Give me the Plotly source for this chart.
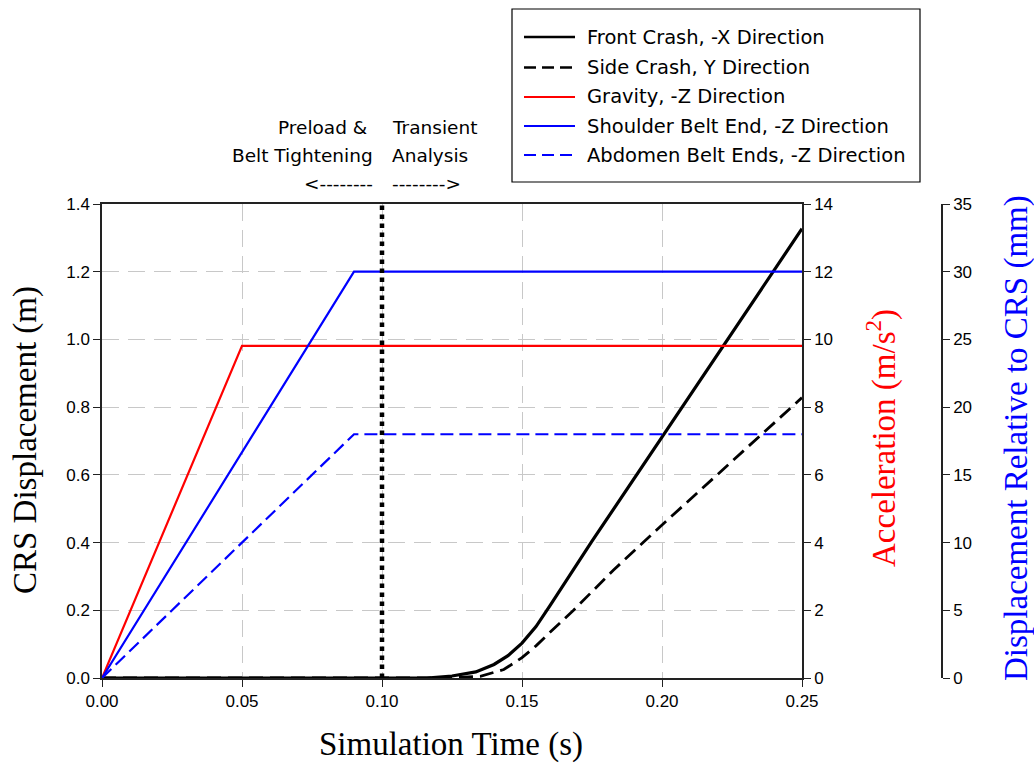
import plotly.graph_objects as go

# ---- data -------------------------------------------------------------
# Front crash (-X) CRS displacement, m
front_time = [0.0, 0.116, 0.125, 0.1335, 0.140, 0.145, 0.150, 0.155, 0.160,
              0.165, 0.170, 0.175, 0.250]
front_disp = [0.0, 0.0, 0.006, 0.018, 0.040, 0.066, 0.103, 0.152, 0.214,
              0.278, 0.341, 0.404, 1.327]

# Side crash (Y) CRS displacement, m
side_time = [0.0, 0.123, 0.1351, 0.1435, 0.150, 0.155, 0.160, 0.1685, 0.1827,
             0.200, 0.250]
side_disp = [0.0, 0.0, 0.005, 0.025, 0.060, 0.095, 0.135, 0.201, 0.319,
             0.452, 0.828]

# Gravity ramp (-Z), m/s^2
gravity_time = [0.0, 0.05, 0.25]
gravity_acc = [0.0, 9.81, 9.81]

# Belt end displacements relative to CRS (-Z), mm
belt_time = [0.0, 0.09, 0.25]
shoulder_mm = [0.0, 30.0, 30.0]
abdomen_mm = [0.0, 18.0, 18.0]

# End of preload / start of transient analysis, s
phase_split = 0.10

legend_labels = [
    "Front Crash, -X Direction",
    "Side Crash, Y Direction",
    "Gravity, -Z Direction",
    "Shoulder Belt End, -Z Direction",
    "Abdomen Belt Ends, -Z Direction",
]

# ---- page geometry (pixels) ---------------------------------------------
W, H = 1034, 768
ML, MR, MT, MB = 102, 92, 204, 90
PW = W - ML - MR          # 840, includes room for the outer right axis
PH = H - MT - MB          # 474
PLOT_RIGHT = 802          # right edge of the data area


def px(x):
    return (x - ML) / PW


def py(y):
    return (H - MB - y) / PH


BLACK = "#000000"
RED = "#ff0000"
BLUE = "#0000ff"
GRID = "#c8c8c8"
AXIS = "#222222"
TICK_FONT = dict(family="Liberation Sans, Arial, sans-serif", size=17, color="#000000")
TITLE_FONT = "Liberation Serif, Times New Roman, serif"
LABEL_FONT = "DejaVu Sans, Tahoma, sans-serif"

fig = go.Figure()

fig.add_trace(go.Scatter(x=front_time, y=front_disp, mode="lines", yaxis="y",
                         line=dict(color=BLACK, width=3.2), name=legend_labels[0],
                         showlegend=False))
fig.add_trace(go.Scatter(x=side_time, y=side_disp, mode="lines", yaxis="y",
                         line=dict(color=BLACK, width=2.8, dash="14px,7px"),
                         name=legend_labels[1], showlegend=False))
fig.add_trace(go.Scatter(x=gravity_time, y=gravity_acc, mode="lines", yaxis="y2",
                         line=dict(color=RED, width=2.2), name=legend_labels[2],
                         showlegend=False))
fig.add_trace(go.Scatter(x=belt_time, y=shoulder_mm, mode="lines", yaxis="y3",
                         line=dict(color=BLUE, width=2.2), name=legend_labels[3],
                         showlegend=False))
fig.add_trace(go.Scatter(x=belt_time, y=abdomen_mm, mode="lines", yaxis="y3",
                         line=dict(color=BLUE, width=2.2, dash="13px,6px"),
                         name=legend_labels[4], showlegend=False))

shapes = []
# phase boundary
shapes.append(dict(type="line", xref="x", yref="paper", x0=phase_split, x1=phase_split,
                   y0=0, y1=1, line=dict(color=BLACK, width=4.5, dash="4.5px,4.5px")))

# legend box with line samples
LEG_X0, LEG_X1, LEG_Y0, LEG_Y1 = 512, 920, 9, 182
shapes.append(dict(type="rect", xref="paper", yref="paper",
                   x0=px(LEG_X0), x1=px(LEG_X1), y0=py(LEG_Y1), y1=py(LEG_Y0),
                   line=dict(color=BLACK, width=1.2), fillcolor="white", layer="above"))
legend_styles = [
    dict(color=BLACK, width=2.6),
    dict(color=BLACK, width=2.6, dash="12px,6px"),
    dict(color=RED, width=2.2),
    dict(color=BLUE, width=2.2),
    dict(color=BLUE, width=2.2, dash="12px,6px"),
]
row_y = [37, 67.5, 97, 126, 155]

annotations = []
for label, style, ry in zip(legend_labels, legend_styles, row_y):
    shapes.append(dict(type="line", xref="paper", yref="paper",
                       x0=px(524), x1=px(575), y0=py(ry), y1=py(ry),
                       line=style, layer="above"))
    annotations.append(dict(text=label, xref="paper", yref="paper",
                            x=px(585), y=py(ry), xanchor="left", yanchor="middle",
                            showarrow=False,
                            font=dict(family=LABEL_FONT, size=19.5, color="#000000")))

# phase notes above the plot
for txt, ry in [("Preload & ", 128), ("Belt Tightening", 155), ("<--------", 183)]:
    annotations.append(dict(text=txt, xref="paper", yref="paper",
                            x=px(375), y=py(ry), xanchor="right", yanchor="middle",
                            showarrow=False,
                            font=dict(family=LABEL_FONT, size=18.5, color="#000000")))
for txt, ry in [("Transient", 128), ("Analysis", 155), ("-------->", 183)]:
    annotations.append(dict(text=txt, xref="paper", yref="paper",
                            x=px(390), y=py(ry), xanchor="left", yanchor="middle",
                            showarrow=False,
                            font=dict(family=LABEL_FONT, size=18.5, color="#000000")))

# axis titles
annotations.append(dict(text="Simulation Time (s)", xref="paper", yref="paper",
                        x=px(451), y=py(744), xanchor="center", yanchor="middle",
                        showarrow=False, font=dict(family=TITLE_FONT, size=33, color="#000000")))
annotations.append(dict(text="CRS Displacement (m)", xref="paper", yref="paper",
                        x=px(25), y=py(440), xanchor="center", yanchor="middle",
                        textangle=-90, showarrow=False,
                        font=dict(family=TITLE_FONT, size=33, color="#000000")))
annotations.append(dict(text="Acceleration (m/s<sup>2</sup>)", xref="paper", yref="paper",
                        x=px(881), y=py(438), xanchor="center", yanchor="middle",
                        textangle=-90, showarrow=False,
                        font=dict(family=TITLE_FONT, size=33, color=RED)))
annotations.append(dict(text="Displacement Relative to CRS (mm)", xref="paper", yref="paper",
                        x=px(1016), y=py(438), xanchor="center", yanchor="middle",
                        textangle=-90, showarrow=False,
                        font=dict(family=TITLE_FONT, size=33, color=BLUE)))

axis_common = dict(showline=True, linecolor=AXIS, linewidth=1.5, ticks="outside",
                   ticklen=7, tickwidth=1.3, tickcolor=AXIS, tickfont=TICK_FONT,
                   zeroline=False)

fig.update_layout(
    width=W, height=H,
    margin=dict(l=ML, r=MR, t=MT, b=MB, pad=0),
    paper_bgcolor="white", plot_bgcolor="white",
    showlegend=False,
    xaxis=dict(domain=[0, (PLOT_RIGHT - ML) / PW], range=[0, 0.25], dtick=0.05,
               tickformat=".2f", showgrid=True, gridcolor=GRID, gridwidth=1.2,
               griddash="17px,9px", mirror=True, **axis_common),
    yaxis=dict(range=[0, 1.4], dtick=0.2, tickformat=".1f", showgrid=True,
               gridcolor=GRID, gridwidth=1.2, griddash="17px,9px", **axis_common),
    yaxis2=dict(range=[0, 14], dtick=2, overlaying="y", side="right", anchor="x",
                showgrid=False, **axis_common),
    yaxis3=dict(range=[0, 35], dtick=5, overlaying="y", side="right", anchor="free",
                position=1.0, showgrid=False, **axis_common),
    shapes=shapes,
    annotations=annotations,
)

fig.write_html("out.html")
